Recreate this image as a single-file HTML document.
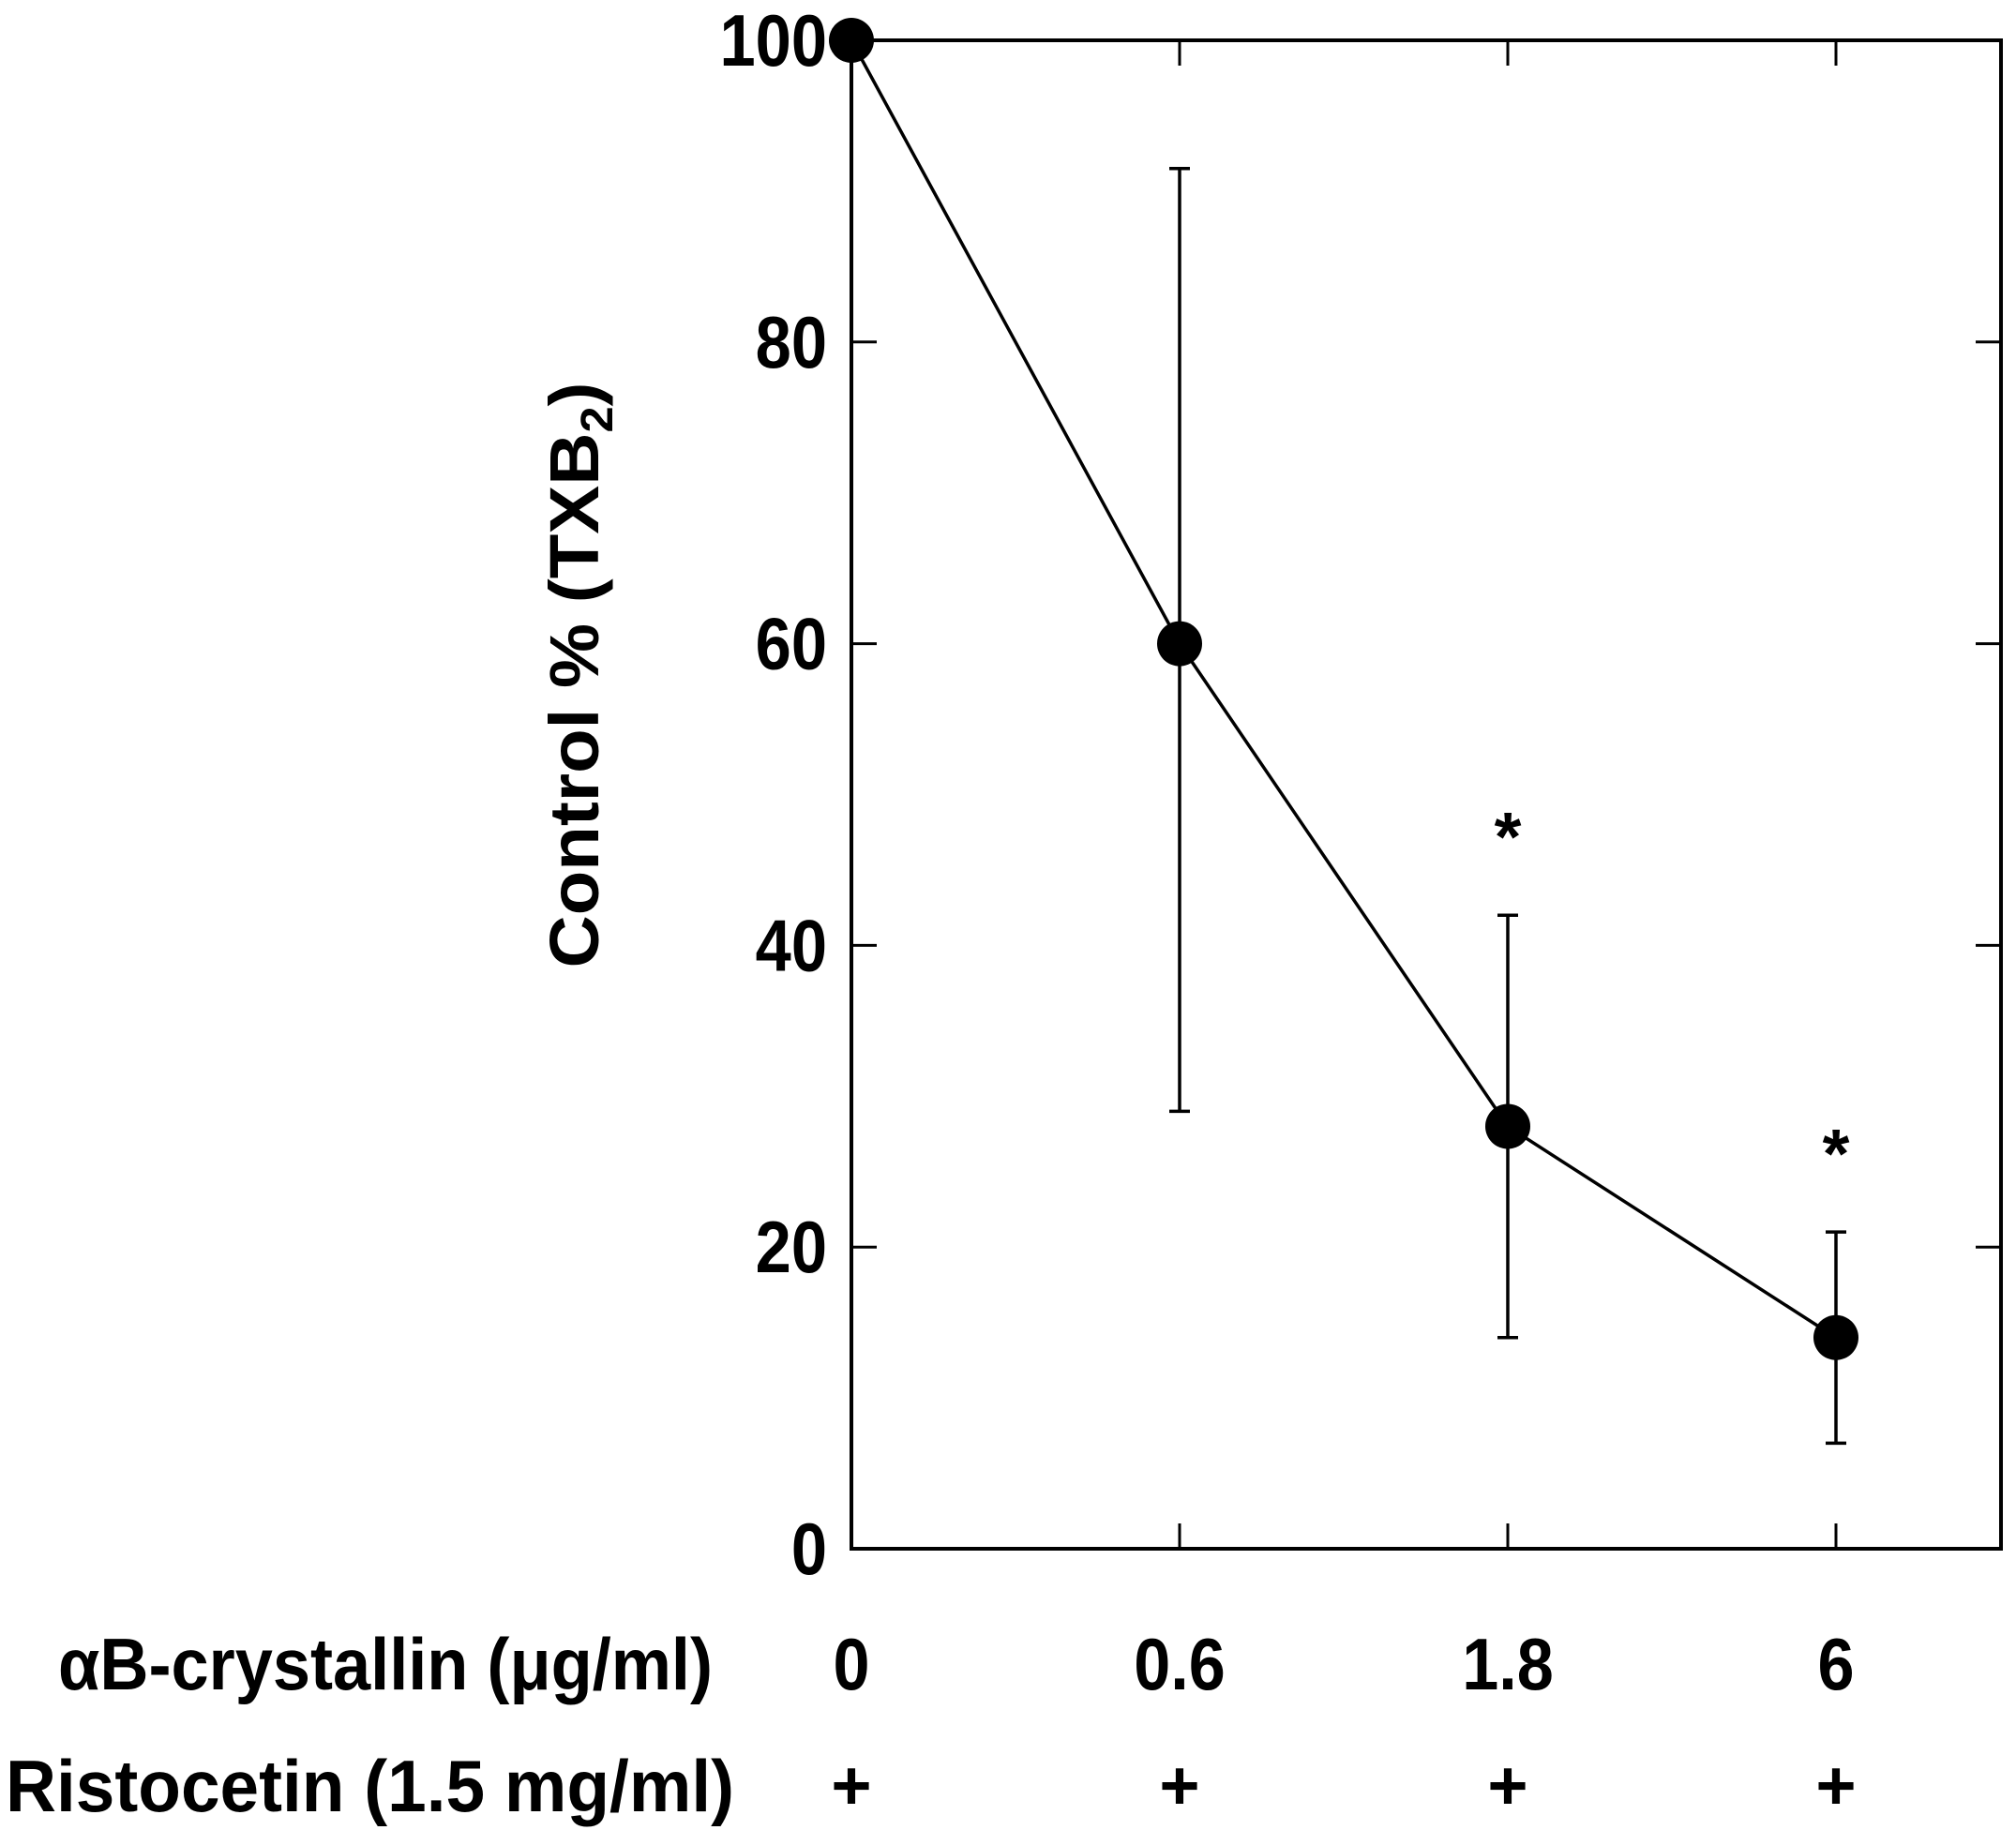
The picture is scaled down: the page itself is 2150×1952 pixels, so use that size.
<!DOCTYPE html>
<html><head><meta charset="utf-8"><style>
html,body{margin:0;padding:0;background:#fff;}
svg{display:block;font-family:"Liberation Sans",Arial,sans-serif;font-weight:bold;}
</style></head><body>
<svg id="chart" width="2150" height="1952" viewBox="0 0 2150 1952" xmlns="http://www.w3.org/2000/svg">
<g id="plot"></g>
</svg>
<script>
const categories = ["0", "0.6", "1.8", "6"];
const ristocetin = ["+", "+", "+", "+"];
const values = [100, 60, 28, 14];
const errLow = [100, 29, 14, 7];
const errHigh = [100, 91.5, 42, 21];
const significant = [false, false, true, true];
const yTicks = [0, 20, 40, 60, 80, 100];

const NS = "http://www.w3.org/2000/svg";
const L = 908, R = 2134, T = 43, B = 1652, STEP = 350;
const xs = i => L + i * STEP;
const ys = v => B - (v / 100) * (B - T);
const g = document.getElementById('plot');
function el(tag, attrs, text) {
  const e = document.createElementNS(NS, tag);
  for (const k in attrs) e.setAttribute(k, attrs[k]);
  if (text !== undefined) e.textContent = text;
  g.appendChild(e);
  return e;
}
let e;
e = el('rect', {x: L, y: T, width: R - L, height: B - T, fill: 'none', stroke: '#000', 'stroke-width': 4});



yTicks.forEach(v => {
  const y = ys(v);
  e = el('line', {x1: L, x2: L + 27, y1: y, y2: y, stroke: '#000', 'stroke-width': 3});
  
  
  e = el('line', {x1: R - 27, x2: R, y1: y, y2: y, stroke: '#000', 'stroke-width': 3});
  
  
  e = el('text', {x: 0, y: 0, 'text-anchor': 'end', 'font-size': 78, transform: `translate(${L - 26},${y + 27}) scale(0.88,1)`}, String(v));
  
  
});

categories.forEach((c, i) => {
  const x = xs(i);
  e = el('line', {x1: x, x2: x, y1: B, y2: B - 27, stroke: '#000', 'stroke-width': 3});
  
  
  e = el('line', {x1: x, x2: x, y1: T, y2: T + 27, stroke: '#000', 'stroke-width': 3});
  
  
  e = el('text', {x: 0, y: 0, 'text-anchor': 'middle', 'font-size': 78, transform: `translate(${x},${1802}) scale(0.9,1)`}, c);
  
  
  e = el('text', {x: x, y: 1930, 'text-anchor': 'middle', 'font-size': 74}, ristocetin[i]);
  
  
});

e = el('polyline', {points: values.map((v, i) => xs(i) + ',' + ys(v)).join(' '), fill: 'none', stroke: '#000', 'stroke-width': 3.5});



values.forEach((v, i) => {
  const x = xs(i);
  if (errHigh[i] !== errLow[i]) {
    e = el('path', {d: `M${x},${ys(errLow[i])}V${ys(errHigh[i])}M${x-11},${ys(errLow[i])}h22M${x-11},${ys(errHigh[i])}h22`, stroke: '#000', 'stroke-width': 3.5, fill: 'none'});
    
    
  }
  e = el('circle', {cx: x, cy: ys(v), r: 24, fill: '#000'});
  
  
  if (significant[i]) {
    e = el('text', {x: x, y: ys(errHigh[i]) - 58, 'text-anchor': 'middle', 'font-size': 74}, '*');
    
    
  }
});

e = el('text', {x: 62, y: 1802, 'font-size': 78, textLength: 698, lengthAdjust: 'spacingAndGlyphs'}, 'αB-crystallin (μg/ml)');


e = el('text', {x: 6, y: 1932, 'font-size': 78, textLength: 777, lengthAdjust: 'spacingAndGlyphs'}, 'Ristocetin (1.5 mg/ml)');



e = el('text', {x: 0, y: 0, 'text-anchor': 'middle', 'font-size': 74, transform: 'translate(638,720) rotate(-90)', textLength: 625, lengthAdjust: 'spacingAndGlyphs'});


e.innerHTML = 'Control  % (TXB<tspan font-size="48" dy="15">2</tspan><tspan dy="-15">)</tspan>';
</script>
</body></html>
